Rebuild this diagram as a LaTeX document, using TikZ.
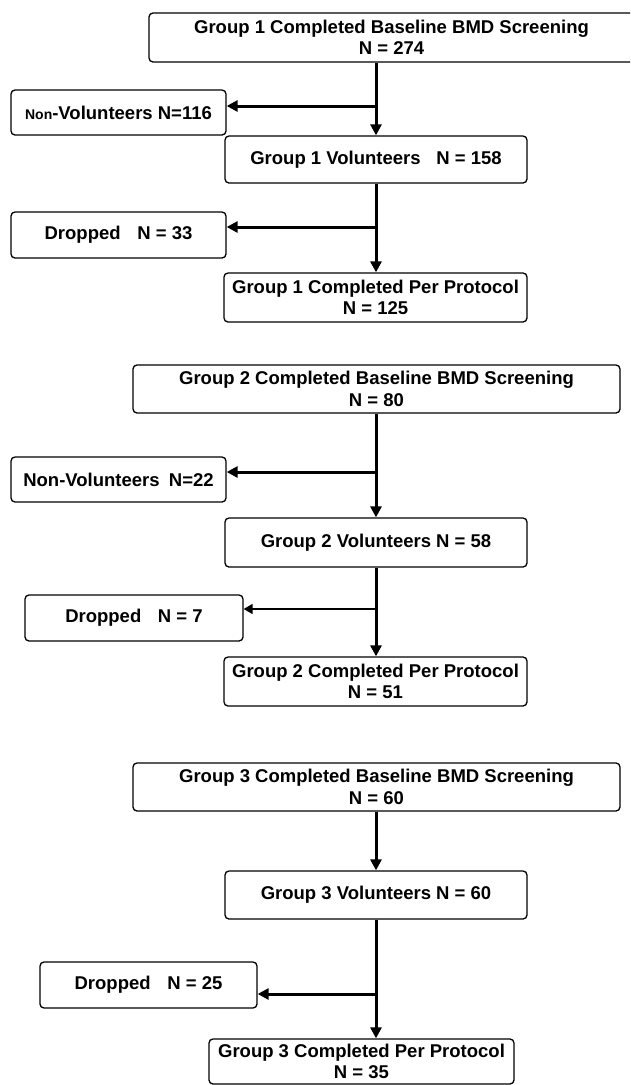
\documentclass[tikz,border=0pt]{standalone}
\usepackage{fontspec}
\setmainfont{Liberation Sans}
\usetikzlibrary{arrows.meta}
\begin{document}
\begin{tikzpicture}[x=1pt,y=-1pt,
  box/.style={draw=black, line width=1.3pt, rounded corners=4pt, inner sep=0pt,
    align=center, font=\fontsize{18.5}{21.5}\selectfont\bfseries},
  flow/.style={line width=3pt, -{Triangle[length=11pt,width=11pt]}},
  thinflow/.style={line width=1.5pt, -{Triangle[length=9pt,width=10pt]}}]
\useasboundingbox (0,0) rectangle (630,1085);
\clip (0,0) rectangle (630,1085);
\fill[white] (0,0) rectangle (630,1085);
% ---------- Group 1
\node[box, minimum width=485pt, minimum height=49pt] (t1) at (391.5,37.5)
  {Group 1 Completed Baseline BMD Screening\\N = 274};
\node[box, minimum width=215pt, minimum height=45pt] (nv1) at (118.5,112.5)
  {{\fontsize{14}{16}\selectfont Non}-Volunteers N=116};
\node[box, minimum width=302pt, minimum height=47pt] (v1) at (376,159.5)
  {Group 1 Volunteers\hspace{0.85em}N = 158};
\node[box, minimum width=215pt, minimum height=46pt] (d1) at (118.5,235)
  {Dropped\hspace{0.9em}N = 33};
\node[box, minimum width=303pt, minimum height=49pt] (c1) at (375.5,297.5)
  {Group 1 Completed Per Protocol\\N = 125};
\coordinate (b1) at (376,106);
\coordinate (b2) at (376,227);
\draw[flow] (v1.north |- t1.south) -- (v1.north);
\draw[flow] (b1) -- (b1 -| nv1.east);
\draw[flow] (v1.south) -- (v1.south |- c1.north);
\draw[flow] (b2) -- (b2 -| d1.east);
% ---------- Group 2
\node[box, minimum width=487pt, minimum height=48pt] (t2) at (376.5,389)
  {Group 2 Completed Baseline BMD Screening\\N = 80};
\node[box, minimum width=215pt, minimum height=45pt] (nv2) at (118.5,479.5)
  {Non-Volunteers\hspace{0.5em}N=22};
\node[box, minimum width=302pt, minimum height=49pt] (v2) at (376,542.5)
  {\raisebox{3pt}{Group 2 Volunteers N = 58}};
\node[box, minimum width=218pt, minimum height=46pt] (d2) at (134,618)
  {Dropped\hspace{0.9em}N = 7};
\node[box, minimum width=303pt, minimum height=49pt] (c2) at (375.5,681.5)
  {Group 2 Completed Per Protocol\\N = 51};
\coordinate (b3) at (376,472);
\coordinate (b4) at (376,609);
\draw[flow] (v2.north |- t2.south) -- (v2.north);
\draw[flow] (b3) -- (b3 -| nv2.east);
\draw[flow] (v2.south) -- (v2.south |- c2.north);
\draw[thinflow] (b4) -- (b4 -| d2.east);
% ---------- Group 3
\node[box, minimum width=487pt, minimum height=48pt] (t3) at (376.5,787)
  {Group 3 Completed Baseline BMD Screening\\N = 60};
\node[box, minimum width=302pt, minimum height=48pt] (v3) at (376,895)
  {\raisebox{3pt}{Group 3 Volunteers N = 60}};
\node[box, minimum width=217pt, minimum height=46pt] (d3) at (148.5,985)
  {Dropped\hspace{0.9em}N = 25};
\node[box, minimum width=305pt, minimum height=45pt] (c3) at (361.5,1061.5)
  {Group 3 Completed Per Protocol\\N = 35};
\coordinate (b5) at (376,994);
\draw[flow] (v3.north |- t3.south) -- (v3.north);
\draw[flow] (v3.south) -- (v3.south |- c3.north);
\draw[flow] (b5) -- (b5 -| d3.east);
\end{tikzpicture}
\end{document}
